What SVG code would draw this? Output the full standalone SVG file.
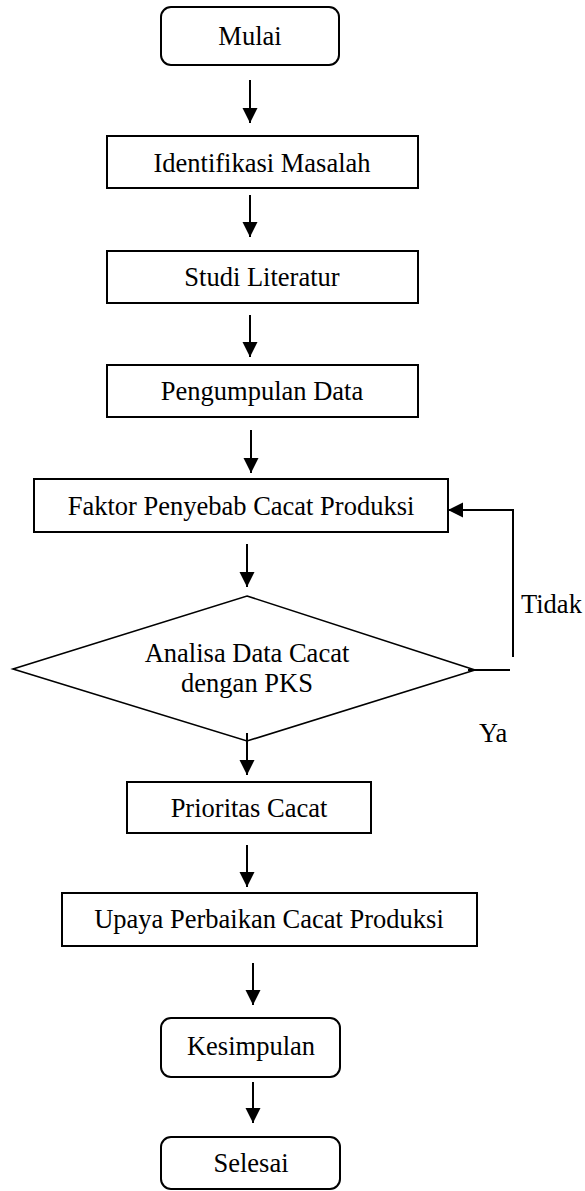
<svg xmlns="http://www.w3.org/2000/svg" width="585" height="1191" viewBox="0 0 585 1191">
<style>
  .box { fill: #fff; stroke: #000; stroke-width: 2; }
  .dia { fill: #fff; stroke: #000; stroke-width: 1.6; }
  .lbl { font-family: "Liberation Serif", "Times New Roman", serif; font-size: 26.5px; fill: #000; text-anchor: middle; }
  .side { font-family: "Liberation Serif", "Times New Roman", serif; font-size: 26.5px; fill: #000; }
  .conn { stroke: #000; stroke-width: 2; fill: none; }
</style>
<defs>
  <marker id="ah" markerUnits="userSpaceOnUse" markerWidth="16" markerHeight="16" viewBox="0 0 16 16" refX="15" refY="8" orient="auto">
    <path d="M0,0.5 L15,8 L0,15.5 Z" fill="#000"/>
  </marker>
</defs>
<rect width="585" height="1191" fill="#fff"/>
<g id="mulai"><rect class="box" x="161" y="7" width="178" height="58" rx="10"/><text class="lbl" x="250" y="45">Mulai</text></g>
<g id="identifikasi"><rect class="box" x="107" y="136" width="311" height="52"/><text class="lbl" x="262" y="172">Identifikasi Masalah</text></g>
<g id="studi"><rect class="box" x="107" y="251" width="311" height="52"/><text class="lbl" x="262" y="286">Studi Literatur</text></g>
<g id="pengumpulan"><rect class="box" x="107" y="365" width="311" height="52"/><text class="lbl" x="262" y="400">Pengumpulan Data</text></g>
<g id="faktor"><rect class="box" x="34" y="479" width="414" height="53"/><text class="lbl" x="241" y="515">Faktor Penyebab Cacat Produksi</text></g>
<g id="analisa"><polygon class="dia" points="247,596 475,670 247,741 13,669"/><text class="lbl" x="247" y="662">Analisa Data Cacat</text><text class="lbl" x="247" y="692">dengan PKS</text></g>
<g id="prioritas"><rect class="box" x="127" y="782" width="244" height="51"/><text class="lbl" x="249" y="817">Prioritas Cacat</text></g>
<g id="upaya"><rect class="box" x="62" y="893" width="415" height="53"/><text class="lbl" x="269" y="928">Upaya Perbaikan Cacat Produksi</text></g>
<g id="kesimpulan"><rect class="box" x="161" y="1018" width="179" height="59" rx="10"/><text class="lbl" x="251" y="1055">Kesimpulan</text></g>
<g id="selesai"><rect class="box" x="161" y="1137" width="179" height="52" rx="10"/><text class="lbl" x="251" y="1172">Selesai</text></g>
<g id="connectors">
  <line class="conn" x1="250" y1="80" x2="250" y2="123" marker-end="url(#ah)"/>
  <line class="conn" x1="250" y1="195" x2="250" y2="237" marker-end="url(#ah)"/>
  <line class="conn" x1="250" y1="315" x2="250" y2="357" marker-end="url(#ah)"/>
  <line class="conn" x1="251" y1="430" x2="251" y2="473" marker-end="url(#ah)"/>
  <line class="conn" x1="247" y1="544" x2="247" y2="587" marker-end="url(#ah)"/>
  <line class="conn" x1="247" y1="733" x2="247" y2="775" marker-end="url(#ah)"/>
  <line class="conn" x1="247" y1="845" x2="247" y2="887" marker-end="url(#ah)"/>
  <line class="conn" x1="253" y1="963" x2="253" y2="1005" marker-end="url(#ah)"/>
  <line class="conn" x1="253" y1="1082" x2="253" y2="1123" marker-end="url(#ah)"/>
  <line class="conn" x1="468" y1="670" x2="510" y2="670"/>
  <line class="conn" x1="513" y1="657" x2="513" y2="509"/>
  <line class="conn" x1="514" y1="510" x2="448" y2="510" marker-end="url(#ah)"/>
  <text class="side" x="521" y="613">Tidak</text>
  <text class="side" x="479" y="742">Ya</text>
</g>
</svg>
